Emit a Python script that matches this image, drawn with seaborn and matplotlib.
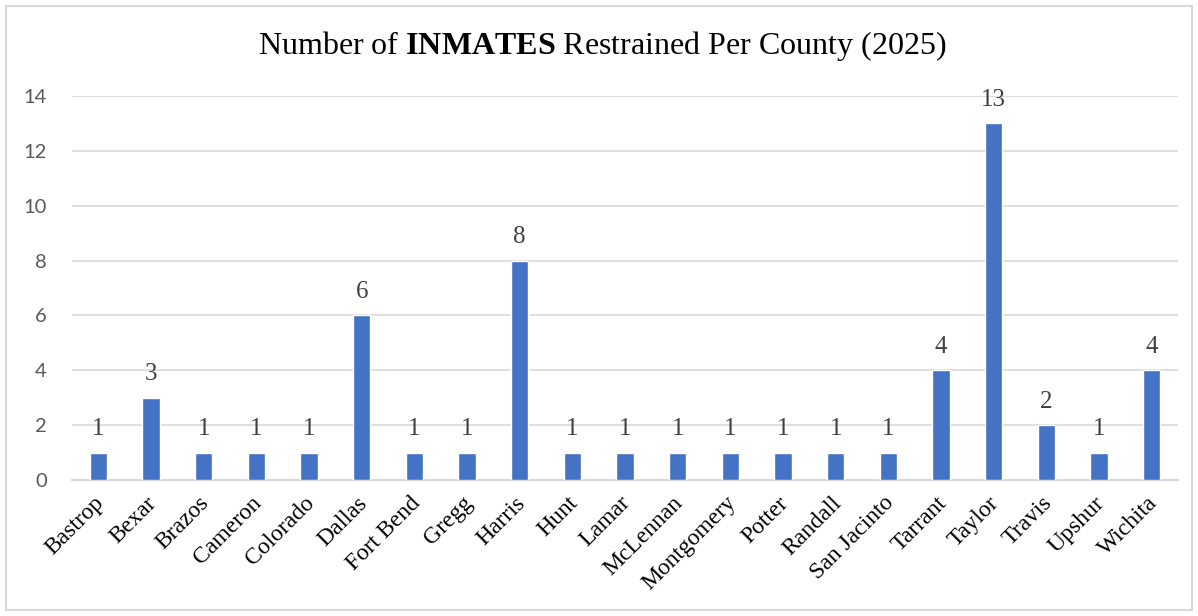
import matplotlib
matplotlib.use("Agg")
import matplotlib.pyplot as plt
import matplotlib.transforms as mtransforms
import seaborn as sns
import pandas as pd
from matplotlib.patches import Rectangle

counties = ["Bastrop", "Bexar", "Brazos", "Cameron", "Colorado", "Dallas", "Fort Bend",
            "Gregg", "Harris", "Hunt", "Lamar", "McLennan", "Montgomery", "Potter",
            "Randall", "San Jacinto", "Tarrant", "Taylor", "Travis", "Upshur", "Wichita"]
counts = [1, 3, 1, 1, 1, 6, 1, 1, 8, 1, 1, 1, 1, 1, 1, 1, 4, 13, 2, 1, 4]
y_ticks = [0, 2, 4, 6, 8, 10, 12, 14]

sns.set_theme(style="white")
plt.rcParams["mathtext.fontset"] = "custom"
plt.rcParams["mathtext.rm"] = "Liberation Serif"
plt.rcParams["mathtext.bf"] = "Liberation Serif:bold"

df = pd.DataFrame({"county": counties, "count": counts})

fig = plt.figure(figsize=(11.98, 6.16), dpi=100)
ax = fig.add_axes([72 / 1198, 1 - 480 / 616, (1178 - 72) / 1198, (480 - 96) / 616])

sns.barplot(data=df, x="county", y="count", color="#4472C4", width=0.33,
            saturation=1, ax=ax, zorder=3)

ax.set_xlim(-0.5, len(counties) - 0.5)
ax.set_ylim(0, 14)
ax.set_yticks(y_ticks)
ax.set_yticklabels([str(t) for t in y_ticks], fontfamily="Lato", fontsize=14.5, color="#595959")
ax.yaxis.grid(True, color="#d9d9d9", linewidth=1.2, zorder=0)
ax.xaxis.grid(False)
for s in ["top", "right", "left"]:
    ax.spines[s].set_visible(False)
ax.spines["bottom"].set_color("#d9d9d9")
ax.spines["bottom"].set_linewidth(1.5)
ax.tick_params(axis="both", length=0)
ax.tick_params(axis="y", pad=18)
ax.set_xticks(range(len(counties)))
ax.set_xticklabels(counties, rotation=45, ha="right", rotation_mode="anchor",
                   fontfamily="Liberation Serif", fontsize=17, color="#000000")
ax.tick_params(axis="x", pad=9)
shift = mtransforms.ScaledTranslation(-5 / 100, 0, fig.dpi_scale_trans)
for lbl in ax.get_xticklabels():
    lbl.set_transform(lbl.get_transform() + shift)
ax.set_xlabel("")
ax.set_ylabel("")

for i, v in enumerate(counts):
    ax.annotate(str(v), (i, v), xytext=(0, 9), textcoords="offset points",
                ha="center", va="bottom", fontfamily="Liberation Serif",
                fontsize=18, color="#404040")

fig.text(0.503, 1 - 46 / 616, r"Number of $\mathbf{INMATES}$ Restrained Per County (2025)",
         ha="center", va="center", fontfamily="Liberation Serif", fontsize=23, color="#000000")

fig.patches.append(Rectangle((6 / 1198, 6 / 616), 1186 / 1198, 604 / 616,
                             transform=fig.transFigure, fill=False,
                             edgecolor="#d9d9d9", linewidth=1.5))

fig.savefig("out.png", dpi=100)
